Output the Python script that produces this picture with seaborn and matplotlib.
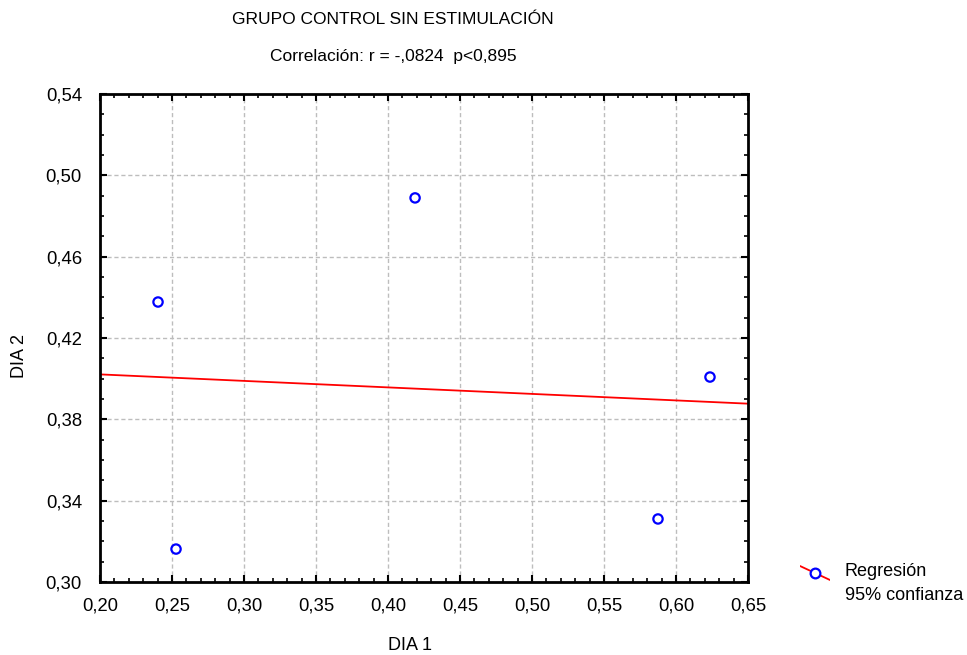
import matplotlib
matplotlib.use("Agg")
import matplotlib.pyplot as plt
from matplotlib.ticker import FixedLocator, MultipleLocator, FuncFormatter
from matplotlib.lines import Line2D
import seaborn as sns
import pandas as pd
import numpy as np

# Measurements for the control group (day 1 vs day 2)
dia1 = [0.2403, 0.2528, 0.4188, 0.5875, 0.6236]
dia2 = [0.4377, 0.3162, 0.4889, 0.3310, 0.4008]

x_ticks = [0.20, 0.25, 0.30, 0.35, 0.40, 0.45, 0.50, 0.55, 0.60, 0.65]
y_ticks = [0.30, 0.34, 0.38, 0.42, 0.46, 0.50, 0.54]

title_text = "GRUPO CONTROL SIN ESTIMULACIÓN"
subtitle_text = "Correlación: r = -,0824  p<0,895"
legend_labels = ["Regresión", "95% confianza"]

df = pd.DataFrame({"DIA 1": dia1, "DIA 2": dia2})

sns.set_style("white")
plt.rcParams["font.family"] = ["Liberation Sans", "DejaVu Sans"]
plt.rcParams["text.color"] = "black"
plt.rcParams["xtick.color"] = "black"
plt.rcParams["ytick.color"] = "black"
FS = 12.5
FS_TICK = 13.3
FS_LAB = 13

fig = plt.figure(figsize=(9.67, 6.55), dpi=100)
ax = fig.add_axes([100 / 967, 1 - 582 / 655, 648 / 967, 488 / 655])
ax.set_xlim(x_ticks[0], x_ticks[-1])
ax.set_ylim(y_ticks[0], y_ticks[-1])

sns.regplot(data=df, x="DIA 1", y="DIA 2", ax=ax, ci=None, truncate=False,
            scatter_kws=dict(s=45, facecolors="none", edgecolors="#0000ff",
                             linewidths=1.6, alpha=1),
            line_kws=dict(color="#ff0000", lw=1.3))
ax.set_xlim(x_ticks[0], x_ticks[-1])
ax.set_ylim(y_ticks[0], y_ticks[-1])

# Axis ticks and grid
ax.xaxis.set_major_locator(FixedLocator(x_ticks))
ax.xaxis.set_minor_locator(MultipleLocator(0.01))
ax.yaxis.set_major_locator(FixedLocator(y_ticks))
ax.yaxis.set_minor_locator(MultipleLocator(0.01))
fmt = FuncFormatter(lambda v, p: f"{v:.2f}".replace(".", ","))
ax.xaxis.set_major_formatter(fmt)
ax.yaxis.set_major_formatter(fmt)
ax.tick_params(which="both", direction="in", top=True, right=True, bottom=True, left=True,
               color="black", labelcolor="black", labelsize=FS_TICK)
ax.tick_params(which="major", length=5, width=1.5)
ax.tick_params(axis="x", which="major", pad=11)
ax.tick_params(axis="y", which="major", pad=13)
ax.tick_params(which="minor", length=3, width=1.2)
ax.grid(True, which="major", color="#bdbdbd", linestyle=(0, (3, 2)), linewidth=1)
for s in ax.spines.values():
    s.set_visible(True)
    s.set_color("black")
    s.set_linewidth(2)

ax.set_xlabel("")
ax.set_ylabel("")
fig.text(410 / 967, 1 - 645 / 655, "DIA 1", ha="center", va="center", fontsize=FS_LAB)
fig.text(19 / 967, 1 - 356 / 655, "DIA 2", ha="center", va="center", rotation=90, fontsize=FS_LAB)

fig.text(393 / 967, 1 - 20 / 655, title_text, ha="center", va="center", fontsize=FS)
fig.text(393 / 967, 1 - 56 / 655, subtitle_text, ha="center", va="center", fontsize=FS)

# Legend: regression line with marker
legend_ax = fig.add_axes([800 / 967, 1 - 583 / 655, 30 / 967, 20 / 655])
legend_ax.set_xlim(0, 1)
legend_ax.set_ylim(0, 1)
legend_ax.axis("off")
legend_ax.add_line(Line2D([0.0, 1.0], [0.85, 0.15], color="#ff0000", lw=1.3))
legend_ax.add_line(Line2D([0.5], [0.5], marker="o", markersize=7, markerfacecolor="white",
                          markeredgecolor="#0000ff", markeredgewidth=1.6, linestyle="none"))
fig.text(845 / 967, 1 - 572 / 655, legend_labels[0], ha="left", va="center", fontsize=FS_LAB)
fig.text(845 / 967, 1 - 596 / 655, legend_labels[1], ha="left", va="center", fontsize=FS_LAB)

fig.savefig("out.png", dpi=100)
